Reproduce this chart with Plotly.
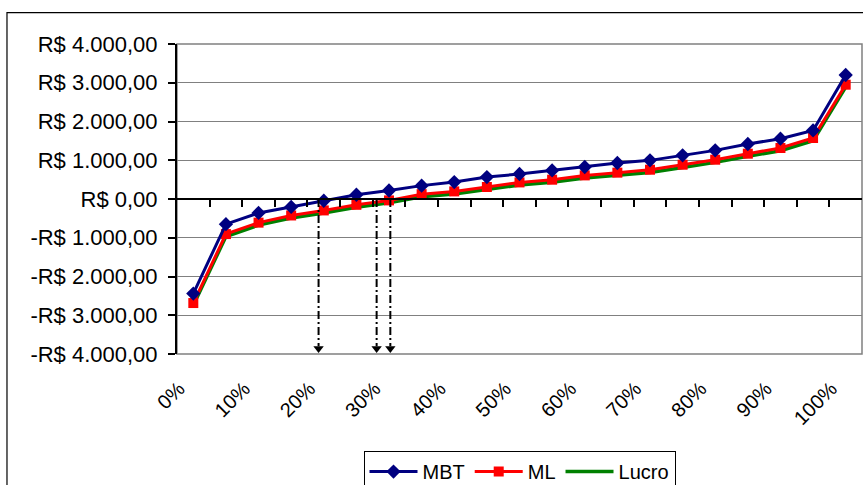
import plotly.graph_objects as go

# percentiles (categories)
pct = [0, 5, 10, 15, 20, 25, 30, 35, 40, 45, 50, 55, 60, 65, 70, 75, 80, 85, 90, 95, 100]
pct_ticks = [0, 10, 20, 30, 40, 50, 60, 70, 80, 90, 100]
pct_tick_text = ["0%", "10%", "20%", "30%", "40%", "50%", "60%", "70%", "80%", "90%", "100%"]

mbt = [-2440, -650, -360, -205, -45, 110, 220, 345, 436, 565, 645, 738, 826, 929,
       997, 1126, 1255, 1419, 1556, 1770, 3200]
ml = [-2685, -905, -610, -425, -295, -150, -36, 125, 196, 310, 428, 498, 609, 680,
      756, 885, 1014, 1169, 1316, 1574, 2950]
lucro = [-2740, -970, -675, -490, -360, -215, -100, 60, 130, 245, 360, 430, 540, 610,
         685, 815, 945, 1100, 1245, 1505, 2890]

y_ticks = [4000, 3000, 2000, 1000, 0, -1000, -2000, -3000, -4000]
y_tick_text = ["R$ 4.000,00", "R$ 3.000,00", "R$ 2.000,00", "R$ 1.000,00", "R$ 0,00",
               "-R$ 1.000,00", "-R$ 2.000,00", "-R$ 3.000,00", "-R$ 4.000,00"]

# break-even markers (dash-dot arrows), in percentile units
arrow_x = [19.2, 28.1, 30.2]
arrow_tip = -3860

FONT = "Liberation Sans, Arial, sans-serif"
LABEL_SHIFT = -2.2  # rotated labels sit slightly left of their category

fig = go.Figure()

fig.add_trace(go.Scatter(x=pct, y=lucro, name="Lucro", mode="lines",
                         line=dict(color="#008000", width=3.5), legendrank=3))
fig.add_trace(go.Scatter(x=pct, y=ml, name="ML", mode="lines+markers",
                         line=dict(color="#FF0000", width=3),
                         marker=dict(symbol="square", size=10, color="#FF0000"),
                         legendrank=2))
fig.add_trace(go.Scatter(x=pct, y=mbt, name="MBT", mode="lines+markers",
                         line=dict(color="#000080", width=3),
                         marker=dict(symbol="diamond", size=11, color="#000080"),
                         legendrank=1))

# arrow heads
fig.add_trace(go.Scatter(x=arrow_x, y=[arrow_tip] * len(arrow_x), mode="markers",
                         marker=dict(symbol="triangle-down", size=9, color="black"),
                         showlegend=False, hoverinfo="skip"))

# invisible trace to carry the zero-line category axis
fig.add_trace(go.Scatter(x=pct, y=[0] * len(pct), xaxis="x2", mode="lines",
                         line=dict(width=0), showlegend=False, hoverinfo="skip"))

shapes = []
for ax in arrow_x:
    shapes.append(dict(type="line", xref="x", yref="y", x0=ax, x1=ax, y0=0, y1=arrow_tip + 60,
                       line=dict(color="black", width=2, dash="8px,3px,2px,3px")))
# plot border (gray)
shapes.append(dict(type="rect", xref="paper", yref="paper", x0=0, x1=1, y0=0, y1=1,
                   line=dict(color="#808080", width=1.5), layer="below"))
# outer chart frame
shapes.append(dict(type="rect", xref="paper", yref="paper", x0=-0.2482, x1=1.05,
                   y0=-1.0, y1=1.101, line=dict(color="black", width=1.2), layer="below"))

fig.update_layout(
    width=863, height=485,
    margin=dict(l=177, r=1, t=44, b=131, autoexpand=False),
    paper_bgcolor="white", plot_bgcolor="white",
    font=dict(family=FONT, size=20, color="black"),
    showlegend=True,
    legend=dict(orientation="h", x=0.5, xanchor="center", y=-0.313, yanchor="top",
                bordercolor="black", borderwidth=1, bgcolor="white",
                font=dict(size=20), itemwidth=48, traceorder="normal"),
    xaxis=dict(range=[-2.5, 102.5], tickvals=[p + LABEL_SHIFT for p in pct_ticks],
               ticktext=pct_tick_text,
               tickangle=-45, ticks="", showgrid=False, zeroline=False,
               showline=False, ticklabelstandoff=18, tickfont=dict(size=20)),
    xaxis2=dict(overlaying="x", matches="x", anchor="free", position=0.5, side="bottom",
                range=[-2.5, 102.5],
                tickvals=[p + 2.5 for p in pct[:-1]], ticks="outside", ticklen=7,
                tickwidth=1.5, tickcolor="black", showticklabels=False,
                showline=True, linecolor="black", linewidth=2,
                showgrid=False, zeroline=False),
    yaxis=dict(range=[-4000, 4000], tickvals=y_ticks, ticktext=y_tick_text,
               showgrid=True, gridcolor="#808080", gridwidth=1,
               zeroline=False, showline=True, linecolor="black", linewidth=2,
               ticks="outside", ticklen=7, tickcolor="black", tickwidth=1.5,
               ticklabelstandoff=6, tickfont=dict(size=22)),
    shapes=shapes,
)

fig.write_html("out.html", config={"displayModeBar": False},
               post_script="document.body.style.margin='0';document.body.style.overflow='hidden';")
